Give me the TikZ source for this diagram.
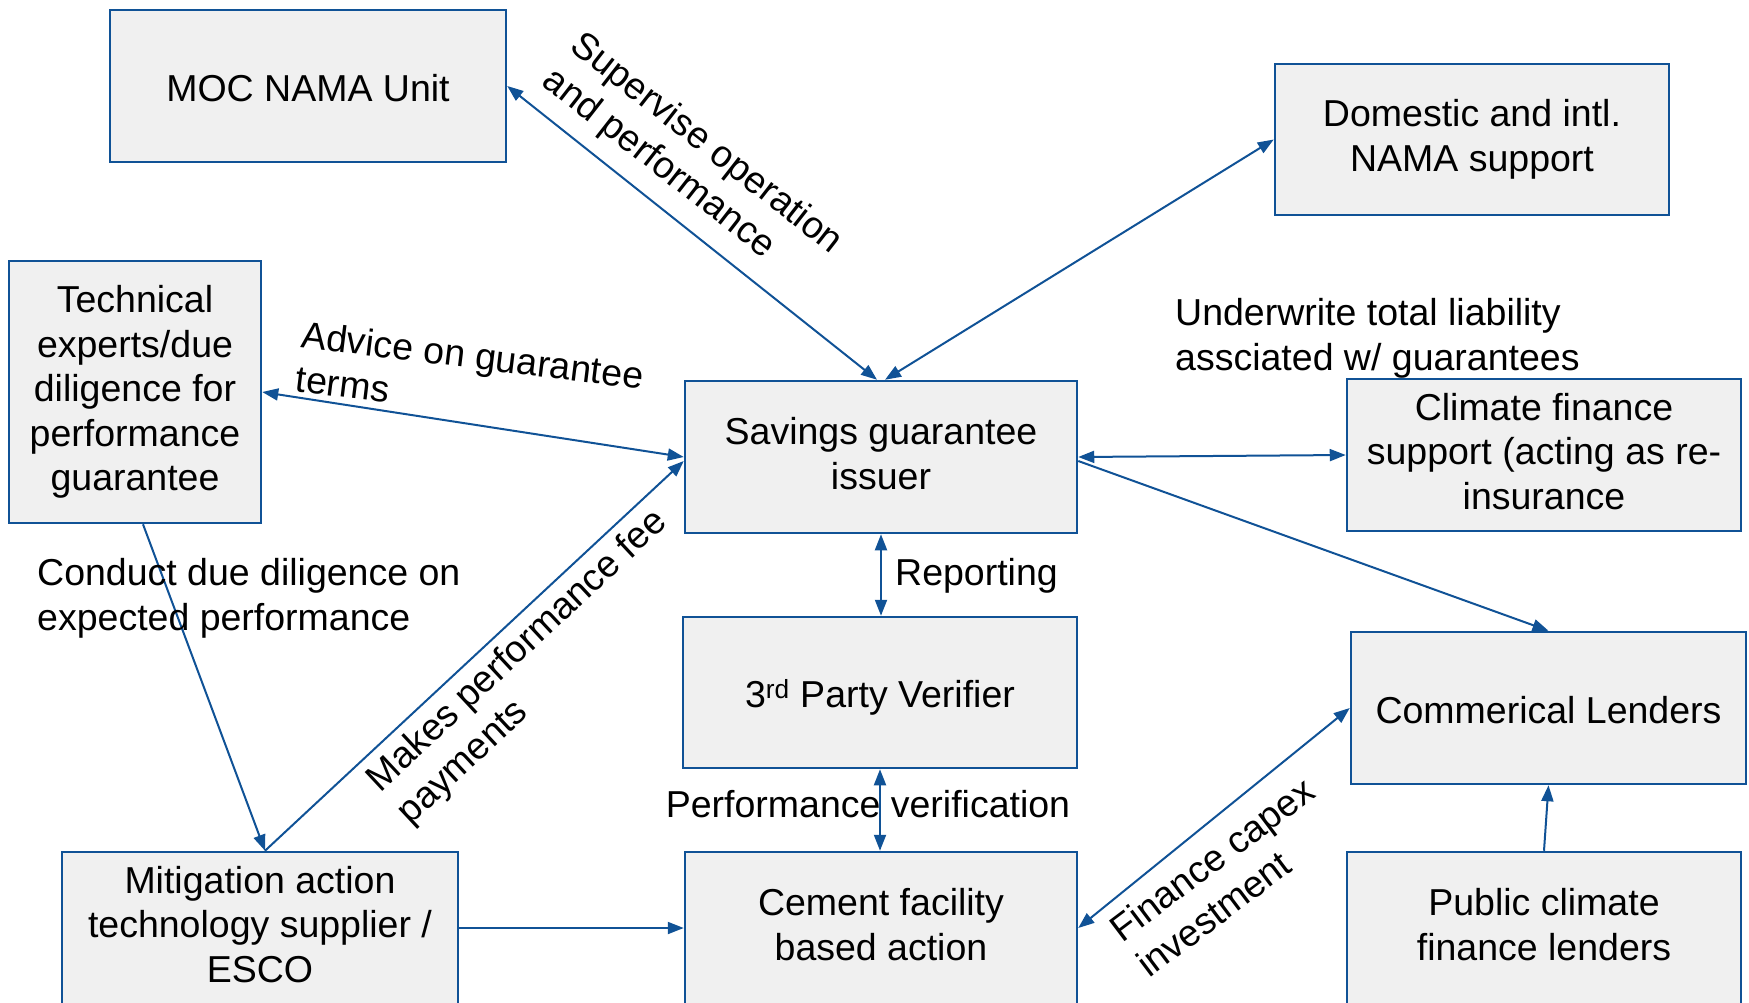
\documentclass[tikz,border=0pt]{standalone}
\usepackage{fontspec}
\setmainfont{Liberation Sans}
\usetikzlibrary{arrows.meta}
\definecolor{lineblue}{RGB}{16,82,150}
\definecolor{boxfill}{RGB}{240,240,240}
\begin{document}
\begin{tikzpicture}[x=1pt,y=-1pt,
  font=\fontsize{37.5}{44.6}\selectfont,
  box/.style={draw=lineblue, line width=2.5pt, fill=boxfill, align=center, inner sep=0pt,
    execute at begin node={\rule{0pt}{1.02em}},
    execute at end node={\rule[-0.2em]{0pt}{0.2em}}},
  conn/.style={draw=lineblue, line width=2pt},
  tip/.style={conn, -{Triangle[length=16pt,width=12pt]}},
  dtip/.style={conn, {Triangle[length=16pt,width=12pt]}-{Triangle[length=16pt,width=12pt]}},
  lbl/.style={align=left, inner sep=0pt}]
\path[use as bounding box] (0,0) rectangle (1749,1002);
% boxes
\node[box, minimum width=396pt, minimum height=152pt] (moc) at (308,86) {MOC NAMA Unit};
\node[box, minimum width=394pt, minimum height=151pt] (dom) at (1472,139.5) {Domestic and intl.\\NAMA support};
\node[box, minimum width=252pt, minimum height=262pt] (tech) at (135,392) {Technical\\experts/due\\diligence for\\performance\\guarantee};
\node[box, minimum width=392pt, minimum height=152pt] (sav) at (881,457) {Savings guarantee\\issuer};
\node[box, minimum width=394pt, minimum height=152pt] (clim) at (1544,455) {Climate finance\\support (acting as re-\\insurance};
\node[box, minimum width=394pt, minimum height=151pt] (ver) at (880,692.5) {3\textsuperscript{rd} Party Verifier};
\node[box, minimum width=395pt, minimum height=152pt] (com) at (1548.5,708) {Commerical Lenders};
\node[box, minimum width=396pt, minimum height=152pt] (mit) at (260,928) {Mitigation action\\technology supplier /\\ESCO};
\node[box, minimum width=392pt, minimum height=152pt] (cem) at (881,928) {Cement facility\\based action};
\node[box, minimum width=394pt, minimum height=152pt] (pub) at (1544,928) {Public climate\\finance lenders};
% connectors
\draw[dtip] (moc.east) -- ([xshift=-4pt]sav.north);
\draw[dtip] (dom.west) -- ([xshift=4pt]sav.north);
\draw[dtip] (tech.east) -- (sav.west);
\draw[dtip] (sav.east) -- (clim.west);
\draw[tip] ([yshift=-4pt]sav.east) -- (com.north);
\draw[dtip] (sav.south) -- (sav.south |- ver.north);
\draw[dtip] (ver.south) -- (ver.south |- cem.north);
\draw[tip] ([xshift=8pt]tech.south) -- ([xshift=5pt]mit.north);
\draw[tip] ([xshift=5pt]mit.north) -- ([yshift=-4pt]sav.west);
\draw[tip] (mit.east) -- (cem.west);
\draw[dtip] (com.west) -- (cem.east);
\draw[tip] (pub.north) -- (com.south);
% labels
\node[lbl, rotate=-38] (lsup) at (692,162) {Supervise operation\\and performance};
\node[lbl, rotate=-7] (ladv) at (470,377) {Advice on guarantee\\terms};
\node[lbl, anchor=west] (lund) at (1175,338) {Underwrite total liability\\assciated w/ guarantees};
\node[lbl, anchor=west] (lrep) at (895,576) {Reporting};
\node[lbl, anchor=west] (lcond) at (37,598) {Conduct due diligence on\\expected performance};
\node[lbl, rotate=43] (lmak) at (533,668) {Makes performance fee\\payments};
\node[lbl] (lperf) at (868,804) {Performance verification};
\node[lbl, rotate=37] (lfin) at (1225,877) {Finance capex\\investment};
\end{tikzpicture}
\end{document}
